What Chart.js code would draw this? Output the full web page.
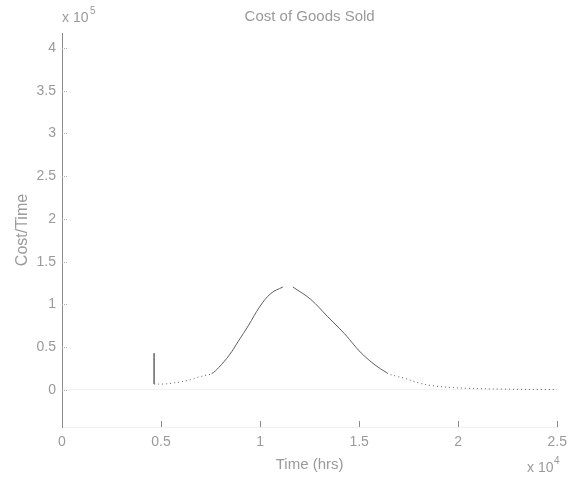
<!DOCTYPE html>
<html>
<head>
<meta charset="utf-8">
<script src="https://cdn.jsdelivr.net/npm/chart.js@4/dist/chart.umd.min.js"></script>
<style>
  html, body { margin: 0; padding: 0; background: #fff; }
  #wrap { width: 574px; height: 478px; }
</style>
</head>
<body>
<div id="wrap"><canvas id="cogsChart"></canvas></div>
<script>
// values (time in hrs, cost per time)
const spikeTimes = [4650, 4650];
const spikeCosts = [43000, 7000];
const times = [4650, 5150, 5550, 6000, 6300, 6550, 6800, 7050, 7300, 7550, 7900, 8450, 8900, 9400, 10000, 10550, 11150, 11400, 11650, 12550, 13400, 14250, 15250, 16400, 16900, 17250, 18050, 18700, 19600, 20500, 22200, 25000];
const costs = [7000, 7000, 8000, 9500, 11000, 12500, 14500, 16000, 17500, 19000, 26000, 41000, 57000, 75000, 98000, 113000, 120500, null, 120500, 106000, 86000, 66000, 40000, 20000, 16000, 14000, 8000, 5000, 3000, 2000, 1000, 500];
const xTicks = [0, 5000, 10000, 15000, 20000, 25000];
const yTicks = [0, 50000, 100000, 150000, 200000, 250000, 300000, 350000, 400000];

const textColor = '#9a9a9a';
const font = { family: 'Liberation Sans, Arial, sans-serif', size: 14 };
const labelFont = { family: 'Liberation Sans, Arial, sans-serif', size: 15 };

// inner tick marks and the "x 10^n" labels, MATLAB style
const matlabBits = {
    id: 'matlabBits',
    afterDraw(chart) {
        const { ctx, chartArea, scales } = chart;
        ctx.save();
        ctx.strokeStyle = '#b0b0b0';
        ctx.lineWidth = 1;
        ctx.setLineDash([1, 1]);
        yTicks.forEach(v => {
            const y = Math.round(scales.y.getPixelForValue(v)) + 0.5;
            ctx.beginPath();
            ctx.moveTo(chartArea.left, y);
            ctx.lineTo(chartArea.left + 5, y);
            ctx.stroke();
        });
        ctx.setLineDash([]);
        ctx.strokeStyle = '#8a8a8a';
        xTicks.forEach(v => {
            const x = Math.round(scales.x.getPixelForValue(v)) + 0.5;
            ctx.beginPath();
            ctx.moveTo(x, chartArea.bottom);
            ctx.lineTo(x, chartArea.bottom - 6);
            ctx.stroke();
        });
        ctx.fillStyle = textColor;
        ctx.textBaseline = 'middle';
        ctx.font = '14px Liberation Sans, Arial, sans-serif';
        ctx.fillText('x 10', 62, 18);
        ctx.fillText('x 10', 527, 468);
        ctx.font = '10px Liberation Sans, Arial, sans-serif';
        ctx.fillText('5', 90, 11);
        ctx.fillText('4', 554, 461);
        ctx.restore();
    }
};

const toPoints = (xs, ys) => xs.map((t, i) => ({ x: t, y: ys[i] }));

new Chart(document.getElementById('cogsChart'), {
    type: 'line',
    data: {
        datasets: [{
            label: 'start',
            data: toPoints(spikeTimes, spikeCosts),
            borderColor: '#7a7a7a',
            borderWidth: 1,
            pointRadius: 0,
            tension: 0
        }, {
            label: 'Cost of Goods Sold',
            data: toPoints(times, costs),
            borderColor: '#5e5e5e',
            borderWidth: 1,
            pointRadius: 0,
            tension: 0.4,
            spanGaps: false,
            segment: {
                borderDash: c => (c.p0.parsed.y < 21000 && c.p1.parsed.y < 21000) ? [1, 3] : undefined
            }
        }]
    },
    options: {
        responsive: true,
        maintainAspectRatio: false,
        animation: false,
        layout: { padding: { left: 0, right: 12, top: 0, bottom: 0 } },
        plugins: {
            legend: { display: false },
            tooltip: { enabled: false },
            title: {
                display: true,
                fullSize: false,
                text: 'Cost of Goods Sold',
                color: textColor,
                font: { ...labelFont, weight: 'normal' },
                padding: { top: 8, bottom: 7 }
            }
        },
        scales: {
            x: {
                type: 'linear',
                min: 0,
                max: 25000,
                afterFit: s => { s.height = 51; },
                afterBuildTicks: s => { s.ticks = xTicks.map(v => ({ value: v })); },
                ticks: {
                    color: textColor,
                    font: font,
                    padding: 7,
                    maxRotation: 0,
                    callback: v => String(v / 10000)
                },
                grid: { display: false, drawTicks: false },
                border: { display: true, color: '#f0f0f0' },
                title: {
                    display: true,
                    text: 'Time (hrs)',
                    color: textColor,
                    font: labelFont,
                    padding: { top: 0, bottom: 4 }
                }
            },
            y: {
                type: 'linear',
                min: -43300,
                max: 417500,
                afterFit: s => { s.width = 62; },
                afterBuildTicks: s => { s.ticks = yTicks.map(v => ({ value: v })); },
                ticks: {
                    color: textColor,
                    font: font,
                    padding: 6,
                    callback: v => String(v / 100000)
                },
                grid: {
                    drawTicks: false,
                    color: c => (c.tick && c.tick.value === 0) ? '#f2f2f2' : 'rgba(0,0,0,0)'
                },
                border: { display: true, color: '#8a8a8a', width: 1 },
                title: {
                    display: true,
                    text: 'Cost/Time',
                    color: textColor,
                    font: { ...labelFont, size: 16 },
                    padding: { top: 13, bottom: 0 }
                }
            }
        }
    },
    plugins: [matlabBits]
});
</script>
</body>
</html>
